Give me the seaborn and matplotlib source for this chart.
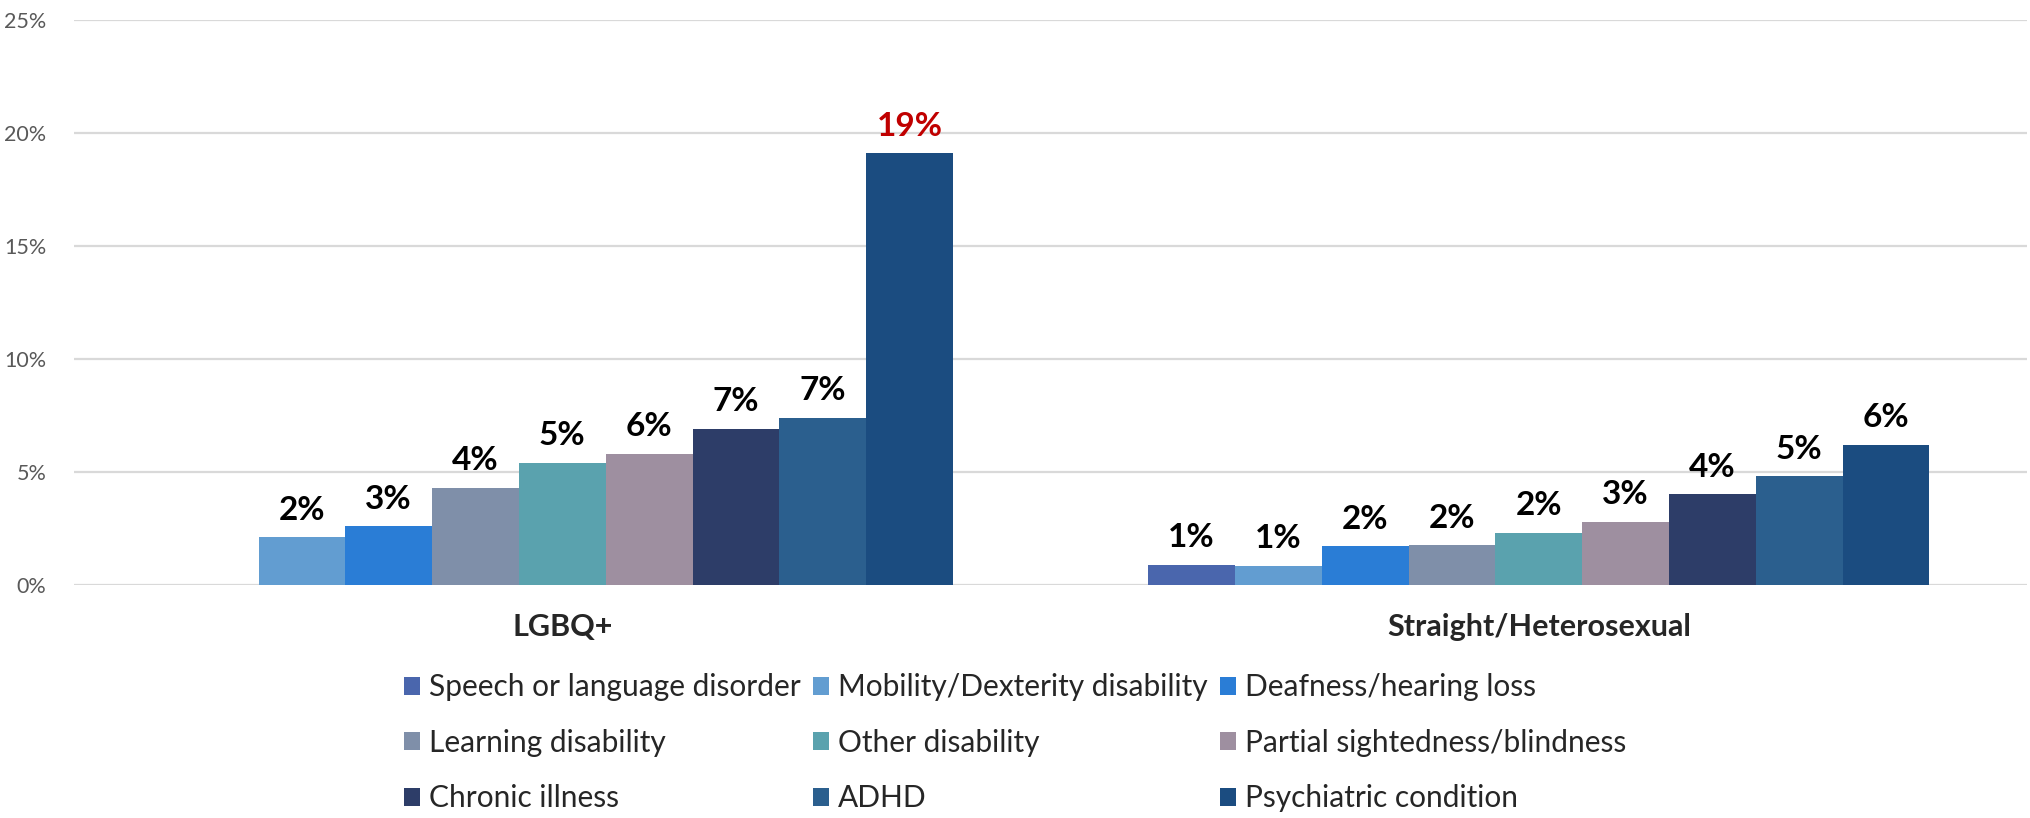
import matplotlib
matplotlib.use("Agg")
import matplotlib.pyplot as plt
import numpy as np
import pandas as pd
import seaborn as sns
from matplotlib.ticker import FuncFormatter

groups = ["LGBQ+", "Straight/Heterosexual"]
conditions = [
    "Speech or language disorder",
    "Mobility/Dexterity disability",
    "Deafness/hearing loss",
    "Learning disability",
    "Other disability",
    "Partial sightedness/blindness",
    "Chronic illness",
    "ADHD",
    "Psychiatric condition",
]
lgbq_values = [np.nan, 2.1, 2.6, 4.3, 5.4, 5.8, 6.9, 7.4, 19.1]
straight_values = [0.9, 0.85, 1.7, 1.75, 2.3, 2.8, 4.0, 4.8, 6.2]
colors = ["#4A66AD", "#629DD1", "#2A7DD6", "#7F8FA9", "#5AA2AE",
          "#9E8FA0", "#2D3D68", "#2B5F8E", "#1B4C80"]

sns.set_theme(style="white")
plt.rcParams["font.family"] = ["Lato", "DejaVu Sans"]

rows = []
for grp, vals in zip(groups, [lgbq_values, straight_values]):
    for cond, v in zip(conditions, vals):
        rows.append({"group": grp, "condition": cond, "value": v})
df = pd.DataFrame(rows).dropna()

fig = plt.figure(figsize=(20.3, 8.18), dpi=100)
ax = fig.add_axes([0.0365, 0.285, 0.962, 0.691])

sns.barplot(
    data=df, x="group", y="value", hue="condition",
    order=groups, hue_order=conditions, palette=colors,
    saturation=1, width=0.8, linewidth=0, ax=ax,
)

# value labels above bars
for cont in ax.containers:
    for bar in cont:
        h = bar.get_height()
        if not np.isfinite(h) or h <= 0:
            continue
        color = "#C00000" if h > 15 else "black"
        ax.annotate(f"{round(h):.0f}%", xy=(bar.get_x() + bar.get_width() / 2, h),
                    xytext=(0, 9), textcoords="offset points",
                    ha="center", va="bottom", fontsize=24, fontweight="bold",
                    color=color)

ax.set_ylim(0, 25)
ax.set_xlim(-0.5, 1.5)
ax.set_yticks([0, 5, 10, 15, 20, 25])
ax.yaxis.set_major_formatter(FuncFormatter(lambda v, _: f"{v:.0f}%"))
ax.yaxis.grid(True, color="#D9D9D9", linewidth=1.6)
ax.set_axisbelow(True)
for s in ax.spines.values():
    s.set_visible(False)
ax.tick_params(axis="y", labelsize=15.5, labelcolor="#595959", length=0, pad=20)
ax.tick_params(axis="x", labelsize=22, length=0, pad=20)
for t in ax.get_xticklabels():
    t.set_fontweight("bold")
ax.set_xlabel("")
ax.set_ylabel("")

# legend, filled row by row
handles, labels = ax.get_legend_handles_labels()
ax.legend_.remove()
order = [0, 3, 6, 1, 4, 7, 2, 5, 8]
fig.legend(
    [handles[i] for i in order], [labels[i] for i in order],
    ncol=3, loc="lower center", bbox_to_anchor=(0.5, -0.026),
    frameon=False, fontsize=21.5, handlelength=0.55, handleheight=0.55,
    handletextpad=0.3, columnspacing=0.4, labelspacing=0.92,
)

fig.savefig("out.png", dpi=100)
